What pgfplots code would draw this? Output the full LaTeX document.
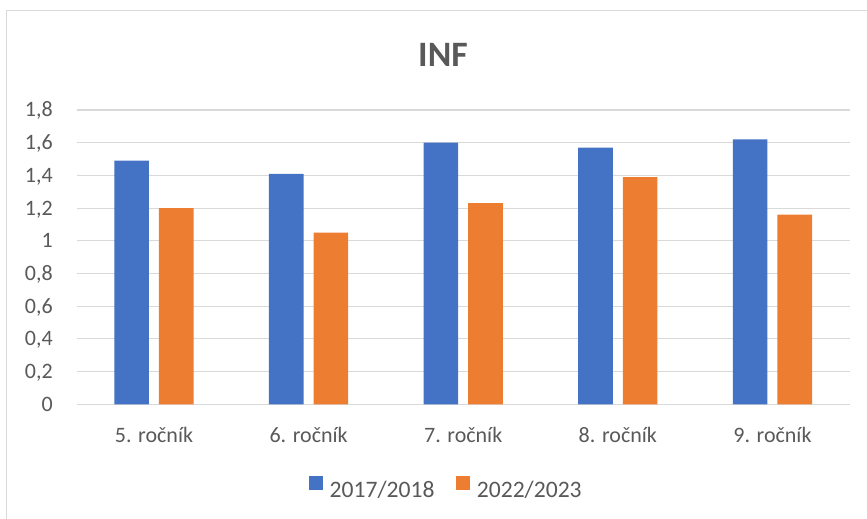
\documentclass[border=0pt]{standalone}
\usepackage{pgfplots}
\pgfplotsset{compat=1.18}
\usepackage{fontspec}
\setmainfont{Carlito}
\definecolor{cblue}{HTML}{4472C4}
\definecolor{corange}{HTML}{ED7D31}
\definecolor{cgrid}{HTML}{D9D9D9}
\definecolor{ctext}{HTML}{595959}
\begin{document}
\begin{tikzpicture}
\begin{axis}[
  name=ax,
  at={(0,0)}, anchor=south west,
  scale only axis,
  width=579.75pt, height=220.7pt,
  ybar=7.5pt, bar width=25.95pt,
  xmin=-0.5, xmax=4.5,
  ymin=0, ymax=1.8,
  ytick={0,0.2,...,1.81},
  xtick=data,
  xticklabels={5. ročník,6. ročník,7. ročník,8. ročník,9. ročník},
  major tick length=0pt,
  axis line style={draw=none},
  ymajorgrids, grid style={cgrid, line width=0.8pt},
  clip=false,
  font=\fontsize{16.5pt}{19pt}\selectfont,
  tick label style={text=ctext},
  /pgf/number format/assume math mode=true,
  /pgf/number format/use comma,
  /pgf/number format/fixed,
  /pgf/number format/precision=1,
  yticklabel style={anchor=base east, inner sep=0pt, xshift=-17.8pt, yshift=-5.2pt},
  xticklabel style={anchor=base, inner sep=0pt, yshift=-29pt},
  legend columns=2,
  legend style={at={(0.3005,-0.316)}, anchor=south west, draw=none, fill=none, inner sep=0pt,
    font=\fontsize{17.7pt}{20pt}\selectfont\color{ctext},
    /tikz/every even column/.append style={column sep=16.5pt},
    nodes={inner sep=0pt, text depth=0pt}},
  legend image code/.code={\fill[#1] (0pt,-0.5pt) rectangle (10.3pt,9.8pt);},
  legend cell align=left,
]
\addplot[fill=cblue, draw=none] coordinates {(0,1.49) (1,1.41) (2,1.60) (3,1.57) (4,1.62)};
\addplot[fill=corange, draw=none] coordinates {(0,1.20) (1,1.05) (2,1.23) (3,1.39) (4,1.16)};
\legend{\hspace{5pt}2017/2018,\hspace{5pt}2022/2023}
\end{axis}
\node[anchor=base, text=ctext, font=\fontsize{26.8pt}{30pt}\selectfont\bfseries] at (274.7pt,253pt) {INF};
\draw[cgrid, line width=0.8pt] (-52.3pt,-120pt) -- (-52.3pt,295pt) -- (640pt,295pt);
\pgfresetboundingbox
\useasboundingbox (-57.5pt,-85.3pt) rectangle (592.7pt,303.2pt);
\end{tikzpicture}
\end{document}
